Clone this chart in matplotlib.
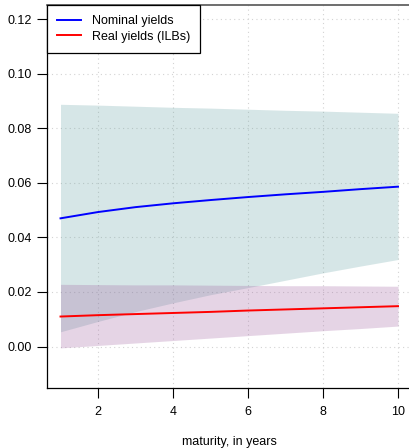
import matplotlib
matplotlib.use("Agg")
import matplotlib.pyplot as plt
import numpy as np

maturity = [1, 2, 3, 4, 5, 6, 7, 8, 9, 10]
nominal = [0.0470, 0.0493, 0.0511, 0.0525, 0.0537, 0.0548, 0.0558, 0.0567, 0.0577, 0.0586]
nominal_lo = [0.0054, 0.0092, 0.0128, 0.0160, 0.0190, 0.0216, 0.0243, 0.0270, 0.0295, 0.0319]
nominal_hi = [0.0888, 0.0885, 0.0881, 0.0877, 0.0874, 0.0870, 0.0866, 0.0863, 0.0859, 0.0855]
real = [0.0110, 0.0115, 0.0119, 0.0123, 0.0127, 0.0132, 0.0136, 0.0140, 0.0144, 0.0148]
real_lo = [-0.0005, 0.0004, 0.0013, 0.0022, 0.0031, 0.0040, 0.0049, 0.0058, 0.0066, 0.0075]
real_hi = [0.0228, 0.0227, 0.0226, 0.0226, 0.0225, 0.0224, 0.0223, 0.0223, 0.0222, 0.0221]
xticks = [2, 4, 6, 8, 10]
yticks = [0.00, 0.02, 0.04, 0.06, 0.08, 0.10, 0.12]

plt.rcParams['font.family'] = ['Liberation Sans', 'DejaVu Sans']

fig = plt.figure(figsize=(4.10, 4.48), dpi=100)
ax = fig.add_axes([47/410, 1-388/448, (411.5-47)/410, (388-5)/448])

ax.fill_between(maturity, nominal_lo, nominal_hi, color='#5F9EA0', alpha=0.25, lw=0)
ax.fill_between(maturity, real_lo, real_hi, color='#9B579B', alpha=0.25, lw=0)
ax.plot(maturity, nominal, color='blue', lw=1.4, label='Nominal yields')
ax.plot(maturity, real, color='red', lw=1.4, label='Real yields (ILBs)')

ax.set_xlim(0.64, 10.36)
ax.set_ylim(-0.0152, 0.1252)
ax.set_xticks(xticks)
ax.set_xticklabels([str(v) for v in xticks])
ax.set_yticks(yticks)
ax.set_yticklabels([f"{v:.2f}" for v in yticks])
ax.grid(True, color='lightgray', linestyle=(0, (1, 3)), lw=0.8)
ax.set_axisbelow(True)

ax.tick_params(axis='both', direction='out', length=7, width=0.8, labelsize=9, colors='black')
ax.tick_params(axis='x', pad=6)
ax.tick_params(axis='y', pad=4)
for s in ['left', 'bottom']:
    ax.spines[s].set_color('black')
    ax.spines[s].set_linewidth(0.9)
ax.spines['top'].set_color('#555555')
ax.spines['top'].set_linewidth(1.2)
ax.spines['right'].set_visible(False)

ax.set_xlabel('maturity, in years', fontsize=9, labelpad=13)

leg = ax.legend(loc='upper left', bbox_to_anchor=(0, 1), borderaxespad=0, fontsize=9,
                frameon=True, fancybox=False, handlelength=1.9, handletextpad=0.9,
                borderpad=0.8, labelspacing=0.3)
leg.get_frame().set_edgecolor('black')
leg.get_frame().set_linewidth(0.9)
leg.get_frame().set_alpha(1)

fig.savefig('out.png', dpi=100)
